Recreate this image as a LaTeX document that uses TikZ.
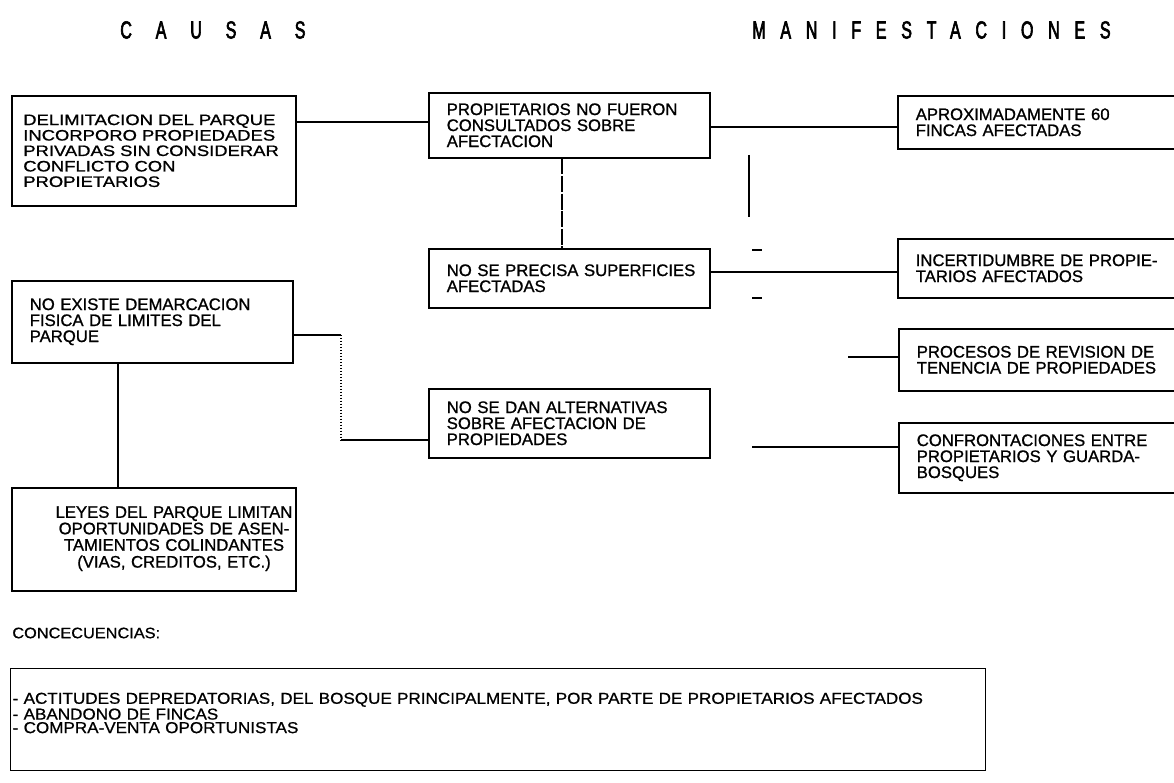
\documentclass[tikz,border=0pt]{standalone}
\usepackage{fontspec}
\setmainfont{Liberation Sans}[FakeBold=1]
\newfontfamily\anchafont{Liberation Sans}[FakeStretch=1.22,FakeBold=1]
\newfontfamily\causasfont{Liberation Sans}[FakeStretch=0.65,LetterSpace=79,FakeBold=2.5]
\newfontfamily\manifont{Liberation Sans}[FakeStretch=0.65,LetterSpace=60,FakeBold=2.5]
\newfontfamily\consfont{Liberation Sans}[FakeStretch=1.08,FakeBold=0.8]
\begin{document}
\begin{tikzpicture}[x=0.02cm, y=-0.02cm,
  caja/.style={draw, line width=0.9pt, anchor=north west, text width=4.9cm, inner xsep=0.36cm,
    align=left, font=\fontsize{9.5}{9.1}\selectfont},
  enlace/.style={line width=0.7pt}]
\useasboundingbox (0,0) rectangle (1174,783);
\clip (0,0) rectangle (1174,783);
\fill [white] (0,0) rectangle (1174,783);

% encabezados
\node (causas) at (120,30) [anchor=west, inner sep=0pt, font=\fontsize{14}{16}\causasfont] {C A U S A S};
\node (manif) at (752,30) [anchor=west, inner sep=0pt, font=\fontsize{14}{16}\manifont] {MANIFESTACIONES};

% causas
\node (delim) at (11,95) [caja, text width=5.22cm, inner xsep=0.23cm, minimum height=2.2cm, font=\fontsize{8.6}{8.8}\anchafont] {DELIMITACION DEL PARQUE\\INCORPORO PROPIEDADES\\PRIVADAS SIN CONSIDERAR\\CONFLICTO CON\\PROPIETARIOS};
\node (noexiste) at (11,280) [caja, minimum height=1.64cm] {NO EXISTE DEMARCACION\\FISICA DE LIMITES DEL\\PARQUE};
\node (leyes) at (11,487) [caja, align=center, inner xsep=1pt, text width=5.62cm, minimum height=2.06cm]
  {\hspace*{0.8cm}\begin{tabular}{@{}c@{}}LEYES DEL PARQUE LIMITAN\\OPORTUNIDADES DE ASEN-\\TAMIENTOS COLINDANTES\\(VIAS, CREDITOS, ETC.)\end{tabular}};

% centro
\node (prop) at (428,92) [caja, minimum height=1.3cm] {PROPIETARIOS NO FUERON\\CONSULTADOS SOBRE\\AFECTACION};
\node (precisa) at (428,248) [caja, minimum height=1.18cm] {\mbox{NO SE PRECISA SUPERFICIES}\\AFECTADAS};
\node (nosedan) at (428,388) [caja, minimum height=1.38cm] {NO SE DAN ALTERNATIVAS\\SOBRE AFECTACION DE\\PROPIEDADES};

% manifestaciones
\node (aprox) at (897,95) [caja, minimum height=1.06cm] {APROXIMADAMENTE 60\\FINCAS AFECTADAS};
\node (incert) at (897,238) [caja, minimum height=1.18cm] {\mbox{INCERTIDUMBRE DE PROPIE-}\\TARIOS AFECTADOS};
\node (procesos) at (898,328) [caja, minimum height=1.24cm] {PROCESOS DE REVISION DE\\TENENCIA DE PROPIEDADES};
\node (confront) at (898,422) [caja, minimum height=1.4cm] {CONFRONTACIONES ENTRE\\PROPIETARIOS Y GUARDA-\\BOSQUES};

% enlaces
\draw [enlace] (delim.east |- 0,122) -- (prop.west |- 0,122);
\draw [enlace] (prop.east |- 0,127) -- (aprox.west |- 0,127);
\draw [enlace, dash pattern=on 9pt off 1pt] (prop.south -| 562,0) -- (precisa.north -| 562,0);
\draw [enlace] (precisa.east |- 0,272) -- (incert.west |- 0,272);
\coordinate (quiebre1) at (341,335);
\coordinate (quiebre2) at (341,440);
\draw [enlace] (noexiste.east |- quiebre1) -- (quiebre1);
\draw [enlace, densely dotted] (quiebre1) -- (quiebre2);
\draw [enlace] (quiebre2) -- (nosedan.west |- quiebre2);
\draw [enlace] (noexiste.south -| 118,0) -- (leyes.north -| 118,0);
\coordinate (procesosin) at (848,357);
\draw [enlace] (procesosin) -- (procesos.west |- procesosin);
\coordinate (confrontin) at (752,447);
\draw [enlace] (confrontin) -- (confront.west |- confrontin);
\coordinate (vtop) at (749,155);
\coordinate (vbot) at (749,217);
\draw [enlace] (vtop) -- (vbot);
\draw [enlace] (752,250) -- (762,250);
\draw [enlace] (752,298) -- (762,298);

% consecuencias
\node (conslabel) at (12,633) [anchor=west, inner sep=0pt, font=\fontsize{8.6}{9}\consfont] {CONCECUENCIAS:};
\node (cons) at (10,668) [draw, line width=0.8pt, anchor=north west, text width=19.42cm, inner xsep=0.04cm,
  minimum height=2.04cm, align=left, font=\fontsize{9}{7.7}\consfont]
  {- ACTITUDES DEPREDATORIAS, DEL BOSQUE PRINCIPALMENTE, POR PARTE DE PROPIETARIOS AFECTADOS\\- ABANDONO DE FINCAS\\- COMPRA-VENTA OPORTUNISTAS\\ \mbox{}};
\end{tikzpicture}
\end{document}
